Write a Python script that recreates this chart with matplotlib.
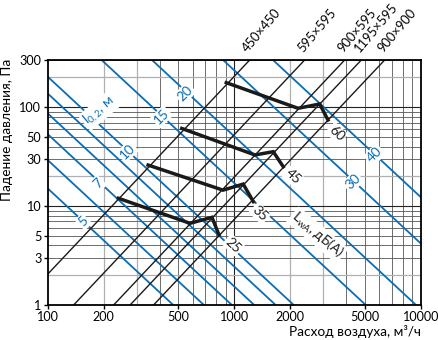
import matplotlib
matplotlib.use("Agg")
import matplotlib.pyplot as plt
from matplotlib.ticker import NullLocator

plt.rcParams["font.family"] = ["Lato", "DejaVu Sans"]

### ============= ###  Dados  ### ============= ###

# linhas azuis: alcance do jato l0,2 (m); vazao (m3/h) onde cada linha cruza 1 Pa e 300 Pa
THROW_L = [5, 6, 7, 8, 9, 10, 15, 20, 30, 40]
THROW_Q_1PA = [472, 689, 973, 1282, 1670, 2088, 5077, 9440, 22700, 42000]
THROW_Q_300PA = [18.2, 26.5, 37.4, 49.3, 64.2, 80.3, 195, 363, 873, 1616]

# linhas pretas finas: tamanho do difusor
DUCTS = ["450×450", "595×595", "900×595", "1195×595", "900×900"]
DUCT_Q_1PA = [70, 138, 226, 277, 370]
DUCT_Q_300PA = [1212, 2388, 3914, 4805, 6412]

# linhas grossas: nivel sonoro LwA, dB(A)
NOISE_LEVELS = ["25", "35", "45", "60"]
NOISE_Q = [
    [240, 580, 761, 830],
    [346, 872, 1119, 1268],
    [524, 1294, 1622, 1834],
    [908, 2200, 2875, 3185],
]
NOISE_P = [
    [12.0, 6.7, 7.7, 5.1],
    [26.0, 14.5, 16.7, 11.1],
    [61.0, 32.9, 35.5, 25.0],
    [177.0, 97.5, 107.7, 74.2],
]

# posicoes dos rotulos (Q, p)
THROW_LABELS = ["5", "7", "10", "15", "20", "30", "40"]
THROW_LABEL_Q = [155.6, 187, 267.7, 409, 546, 4335, 5669]
THROW_LABEL_P = [6.96, 17.0, 35.5, 80.2, 138, 17.5, 32.9]
NOISE_LABEL_Q = [990, 1376, 2069, 3548]
NOISE_LABEL_P = [4.04, 8.46, 19.8, 54.5]

X_TICKS = [100, 200, 500, 1000, 2000, 5000, 10000]
Y_TICKS = [1, 3, 5, 10, 30, 50, 100, 300]

BLUE = "#0b6db3"
FS = 9.8

### ============= ###  Figura  ### ============= ###

fig = plt.figure(figsize=(4.38, 3.40), dpi=100)
ax = fig.add_axes([0.1085, 0.1029, 0.8520, 0.7206])
ax.set_xscale("log")
ax.set_yscale("log")
ax.set_xlim(100, 10000)
ax.set_ylim(1, 300)

# grade
for dec in [100, 1000]:
    for m in range(2, 10):
        c = "#b0b0b0" if m in (2, 3) else "#555555"
        ax.axvline(dec * m, color=c, lw=0.9 if m in (2, 3) else 0.6, zorder=1)
ax.axvline(1000, color="#222222", lw=0.8, zorder=1)
for dec in [1, 10, 100]:
    for m in range(2, 10):
        if dec * m > 300:
            break
        c = "#b0b0b0" if m == 2 else "#555555"
        ax.axhline(dec * m, color=c, lw=0.9 if m == 2 else 0.6, zorder=1)
ax.axhline(10, color="#222222", lw=0.8, zorder=1)
ax.axhline(100, color="#222222", lw=0.8, zorder=1)

# linhas azuis
for q1, q300 in zip(THROW_Q_1PA, THROW_Q_300PA):
    ax.plot([q300, q1], [300, 1], color=BLUE, lw=1.3, zorder=2,
            solid_capstyle="butt")

# linhas dos difusores
for q1, q300 in zip(DUCT_Q_1PA, DUCT_Q_300PA):
    ax.plot([q1, q300], [1, 300], color="#1a1a1a", lw=1.0, zorder=3)

for name, q300 in zip(DUCTS, DUCT_Q_300PA):
    ax.annotate(name, xy=(q300, 300), xytext=(0, 4), textcoords="offset points",
                rotation=50, rotation_mode="anchor", ha="left", va="bottom",
                fontsize=FS - 0.5, annotation_clip=False)

# linhas de ruido
for qs, ps in zip(NOISE_Q, NOISE_P):
    ax.plot(qs, ps, color="#1a1a1a", lw=2.5, zorder=4, solid_joinstyle="miter")

box = dict(boxstyle="square,pad=0.1", fc="white", ec="none")
for t, q, p in zip(THROW_LABELS, THROW_LABEL_Q, THROW_LABEL_P):
    ax.text(q, p, t, color=BLUE, fontsize=FS, rotation=45,
            ha="center", va="center", bbox=box, zorder=5)
for t, q, p in zip(NOISE_LEVELS, NOISE_LABEL_Q, NOISE_LABEL_P):
    ax.text(q, p, t, color="#1a1a1a", fontsize=FS, rotation=-43,
            ha="center", va="center", bbox=box, zorder=5)

ax.text(189, 91.5, "$\\mathregular{l_{0,2}}$, м", color=BLUE, fontsize=FS,
        rotation=40, ha="center", va="center", bbox=box, zorder=5)
ax.text(2800, 5.1, "$\\mathregular{L_{wA}}$, дБ(А)", color="#1a1a1a",
        fontsize=FS, rotation=-40, ha="center", va="center", bbox=box,
        zorder=5)

# eixos
ax.xaxis.set_minor_locator(NullLocator())
ax.yaxis.set_minor_locator(NullLocator())
ax.set_xticks(X_TICKS)
ax.set_xticklabels([str(v) for v in X_TICKS])
ax.set_yticks(Y_TICKS)
ax.set_yticklabels([str(v) for v in Y_TICKS])
ax.tick_params(direction="out", length=3, width=1.0, labelsize=FS - 0.7,
               pad=1.5)
for s in ax.spines.values():
    s.set_linewidth(1.3)
    s.set_zorder(6)

fig.text(7 / 438, 1 - 130 / 340, "Падение давления, Па", rotation=90,
         ha="center", va="center", fontsize=FS)
fig.text(421 / 438, 1 - 331 / 340, "Расход воздуха, м³/ч", ha="right",
         va="center", fontsize=FS)

fig.savefig("out.png", dpi=100)
